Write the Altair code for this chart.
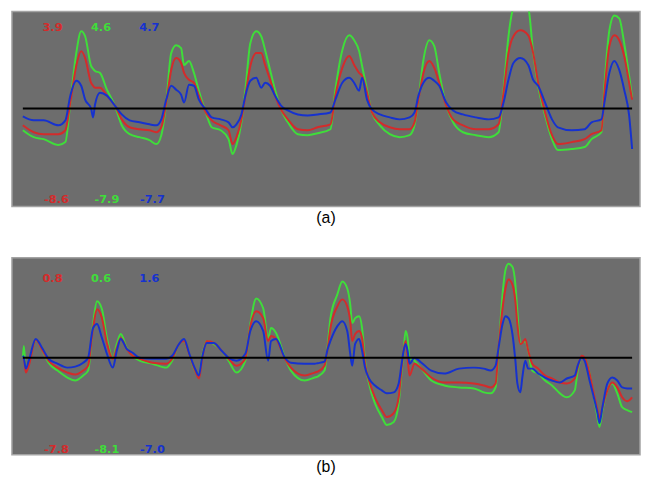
import altair as alt
import pandas as pd

# ---------------- Panel (a) ----------------
x_a = [22, 33, 43, 58, 65, 70, 76, 81, 85, 91, 93, 95, 100, 107, 115, 122, 130, 140, 150, 157,
       162, 167, 172, 177, 182, 185, 190, 195, 200, 207, 213, 222, 230, 234, 238, 243, 247, 252,
       258, 263, 267, 272, 277, 283, 290, 300, 310, 320,
       333, 338, 345, 352, 357, 362, 365, 370, 375, 383, 393, 403, 413, 418, 422, 427, 433, 438,
       443, 450, 457, 467, 480, 493, 503, 508, 513, 518, 525, 533, 538, 543, 550, 557, 563, 577,
       590, 597, 607, 610, 615, 620, 625, 630, 635, 638]
green_a = [-2.2, -2.9, -3.1, -3.7, -3.4, 0.6, 5.6, 7.8, 7.3, 4.3, 4.0, 3.8, 3.6, 1.9, 0.3, -1.7, -2.6, -2.9, -3.2, -3.6,
           -2.7, 0.6, 5.6, 6.4, 6.1, 4.4, 4.8, 3.6, 1.8, -0.4, -1.9, -2.2, -3.1, -4.6, -3.7, -1.4, 1.9, 6.6,
           7.8, 7.3, 5.9, 3.9, 1.9, -0.1, -1.4, -2.6, -2.7, -2.5,
           -2.1, 1.9, 5.9, 7.4, 6.9, 5.8, 4.3, 1.9, -0.4, -1.7, -2.6, -2.9, -2.7, -1.7, 0.9, 4.9, 6.9, 6.3,
           3.6, 0.3, -1.4, -2.4, -2.7, -2.9, -2.4, 1.9, 7.3, 10.2, 11.0, 10.2, 5.6, 2.3, -0.7, -3.1, -4.2, -4.1,
           -3.9, -3.1, -2.4, 2.3, 7.9, 9.4, 9.1, 6.6, 3.3, 1.1]
red_a = [-1.7, -2.4, -2.6, -2.6, -2.2, 0.6, 4.3, 5.8, 5.1, 2.6, 2.3, 2.1, 2.1, 1.3, 0.3, -1.1, -1.9, -2.1, -2.2, -2.4,
         -1.9, 0.6, 3.9, 5.1, 4.6, 3.6, 2.9, 2.6, 1.3, -0.4, -1.2, -1.7, -2.2, -3.6, -2.9, -1.1, 1.3, 4.3,
         5.6, 5.6, 4.4, 2.9, 1.3, -0.1, -1.1, -2.1, -2.2, -1.9,
         -1.6, 1.3, 4.1, 5.3, 4.4, 3.6, 3.3, 1.6, -0.4, -1.4, -1.9, -2.1, -2.1, -1.4, 0.9, 3.6, 4.8, 4.1,
         2.6, 0.3, -1.1, -1.7, -2.1, -2.1, -1.6, 1.6, 5.6, 7.3, 7.9, 7.4, 5.6, 2.6, -0.4, -2.7, -3.6, -3.4,
         -3.1, -2.6, -2.2, 1.6, 6.3, 7.4, 6.9, 5.3, 2.6, 0.9]
blue_a = [-0.8, -1.2, -1.2, -1.7, -1.2, 1.3, 2.8, 2.3, 0.9, 0.0, -0.9, 0.4, 1.6, 1.3, 0.3, -0.6, -1.2, -1.4, -1.6, -1.7,
          -1.1, 0.9, 2.3, 1.9, 1.4, 0.6, 2.4, 2.3, 0.9, -0.1, -0.9, -1.1, -1.4, -1.9, -1.6, -0.6, 1.3, 2.8,
          3.1, 2.1, 2.6, 2.3, 1.3, 0.3, -0.2, -0.6, -0.7, -0.6,
          -0.4, 0.9, 2.6, 3.1, 2.6, 1.8, 3.1, 0.9, -0.1, -0.6, -0.9, -1.1, -0.9, -0.4, 1.3, 2.6, 3.1, 2.8,
          2.3, 0.6, -0.2, -0.6, -0.9, -1.1, -0.9, 0.6, 2.9, 4.6, 5.1, 4.4, 2.9, 2.3, 0.6, -1.1, -1.9, -2.2,
          -2.1, -1.4, -1.1, 0.6, 3.6, 4.8, 3.9, 1.9, -0.7, -4.1]

# ---------------- Panel (b) ----------------
x_b = [22, 23, 25, 28, 35, 42, 48, 57, 67, 75, 83, 88, 93, 97, 102, 107, 113, 117, 121, 127,
       133, 140, 153, 167, 173, 180, 185, 190, 197, 200, 203, 208, 215, 223, 230, 238, 247, 252,
       258, 265, 270, 273, 278, 287, 293, 307, 317, 320, 327, 330, 333, 340, 345, 350, 353, 355,
       358, 362, 365, 368, 372, 378, 385, 390, 397, 402, 405, 407, 409, 411, 413, 418, 425, 435,
       448, 463, 478, 488, 495, 500, 503, 507, 510, 513, 517, 520, 522, 525, 527, 530, 533, 537,
       543, 550, 557, 565, 572, 580, 583, 587, 590, 595, 600, 603, 605, 608, 613, 618, 623, 628,
       633, 638]
green_b = [0.0, 1.2, -1.0, -0.5, 1.8, 0.7, -0.5, -1.3, -2.0, -2.3, -1.8, -1.3, 3.4, 5.7, 4.9, 2.0, 0.0, 1.4, 2.4, 1.0,
           0.2, -0.3, -0.6, -1.0, -0.3, 1.4, 1.7, 0.4, -1.5, -1.8, 0.0, 1.7, 1.4, 0.7, -0.3, -1.5, -0.3, 3.4,
           6.0, 5.0, 2.0, 3.0, 2.5, 0.0, -1.3, -2.3, -2.0, -1.9, -1.3, 1.0, 4.0, 6.4, 7.7, 7.0, 5.4, 3.5,
           4.0, 4.2, 3.0, -0.3, -2.6, -4.6, -6.0, -6.8, -6.5, -4.6, -1.3, 0.7, 2.7, 2.0, 0.0, -0.3, -1.1, -2.3,
           -2.8, -3.0, -3.1, -3.5, -3.6, -3.0, 0.7, 6.4, 8.9, 9.5, 9.2, 7.4, 4.7, 1.4, 1.5, 1.7, 0.7, -1.3,
           -1.6, -2.3, -2.8, -3.6, -4.0, -3.3, -1.3, 0.0, -0.1, -1.6, -4.3, -6.0, -7.0, -5.3, -3.3, -2.6, -3.6, -5.0,
           -5.3, -5.5]
red_b = [0.0, 0.0, -1.5, -0.8, 1.8, 0.7, -0.3, -1.0, -1.5, -1.7, -1.3, -0.8, 3.0, 4.9, 4.0, 1.5, -0.1, 1.0, 2.0, 0.9,
         0.2, -0.1, -0.5, -0.6, -0.1, 1.4, 1.7, 0.4, -1.5, -2.1, -0.3, 1.7, 1.5, 0.7, -0.1, -0.8, -0.1, 3.2,
         4.7, 4.0, 1.7, 2.2, 1.9, -0.1, -1.0, -1.8, -1.5, -1.4, -0.8, 0.8, 3.0, 5.2, 5.9, 5.2, 3.7, 1.7,
         2.4, 2.7, 2.0, -0.6, -2.3, -4.0, -5.3, -6.0, -5.6, -4.0, -1.0, 0.7, 1.7, 0.0, -1.8, -0.6, -1.1, -2.0,
         -2.5, -2.5, -2.6, -2.8, -3.0, -2.6, 1.0, 5.0, 7.0, 7.9, 7.4, 5.7, 3.4, 1.4, 1.5, 1.9, 0.7, -0.6,
         -1.1, -1.8, -2.1, -2.5, -2.6, -2.1, -1.0, 0.2, 0.0, -1.6, -4.0, -5.3, -6.1, -5.0, -3.3, -2.5, -3.0, -4.0,
         -4.4, -4.0]
blue_b = [0.2, 0.0, -1.1, -0.3, 1.9, 0.9, -0.1, -0.6, -1.0, -0.9, -0.5, 0.0, 3.0, 3.4, 2.0, 0.4, -1.0, 0.7, 1.9, 0.9,
          0.5, 0.0, -0.1, -0.1, 0.2, 1.4, 1.9, 0.5, -1.3, -1.8, -0.1, 1.5, 1.5, 0.7, 0.0, -0.3, 0.4, 2.7,
          3.7, 2.7, -0.3, 1.7, 1.9, 0.0, -0.5, -0.6, -0.6, -0.55, -0.4, 0.8, 1.7, 3.2, 3.7, 2.7, 0.4, -0.8,
          1.4, 1.9, 0.7, -1.0, -2.1, -2.8, -3.3, -3.6, -3.5, -2.6, -0.6, 0.7, 1.4, 0.7, -0.6, 0.0, -0.5, -1.3,
          -1.6, -1.1, -1.0, -1.1, -1.3, -0.8, 1.0, 3.4, 4.2, 4.0, 2.4, -0.3, -2.6, -3.5, -2.0, -0.3, -1.1, -1.1,
          -1.6, -2.0, -2.3, -2.5, -2.1, -1.8, -0.8, 0.0, -0.3, -2.3, -4.3, -5.6, -6.6, -5.0, -2.6, -2.0, -2.3, -3.0,
          -3.1, -3.1]

# Labels (text shown in the picture)
labels_top_a = ["3.9", "4.6", "4.7"]
labels_bot_a = ["-8.6", "-7.9", "-7.7"]
labels_top_b = ["0.8", "0.6", "1.6"]
labels_bot_b = ["-7.8", "-8.1", "-7.0"]
captions = ["(a)", "(b)"]

series_names = ["green", "red", "blue"]
series_colors = {"red": "#d42b2b", "green": "#3fdd3a", "blue": "#1632cf"}

for lst in (green_a, red_a, blue_a):
    assert len(lst) == len(x_a), (len(lst), len(x_a))
for lst in (green_b, red_b, blue_b):
    assert len(lst) == len(x_b), (len(lst), len(x_b))

BG = "#6d6d6d"
W = 635


def panel(xs, g, r, b, tops, bots, caption, ydom, height, ytop, ybot):
    rows = []
    for name, vals in (("green", g), ("red", r), ("blue", b)):
        for xv, yv in zip(xs, vals):
            rows.append({"x": xv, "v": yv, "s": name})
    df = pd.DataFrame(rows)
    xs_scale = alt.Scale(domain=[11, 646], nice=False, zero=False)
    ys_scale = alt.Scale(domain=ydom, nice=False, zero=False)

    layers = []
    for name in series_names:
        layers.append(
            alt.Chart(df).transform_filter(alt.datum.s == name)
            .mark_line(color=series_colors[name], strokeWidth=2, clip=True, interpolate="monotone")
            .encode(x=alt.X("x:Q", scale=xs_scale, axis=None),
                    y=alt.Y("v:Q", scale=ys_scale, axis=None))
        )
    zero = alt.Chart(pd.DataFrame({"x": [22], "x2": [638], "v": [0]})).mark_rule(
        color="black", strokeWidth=2).encode(
        x=alt.X("x:Q", scale=xs_scale, axis=None), x2="x2:Q",
        y=alt.Y("v:Q", scale=ys_scale, axis=None))
    lab_rows = []
    lab_x = [52, 101, 150]
    lab_x_b = [56, 107, 153]
    for i, name in enumerate(["red", "green", "blue"]):
        lab_rows.append({"x": lab_x[i], "v": ytop, "t": tops[i], "c": series_colors[name]})
        lab_rows.append({"x": lab_x_b[i], "v": ybot, "t": bots[i], "c": series_colors[name]})
    text = alt.Chart(pd.DataFrame(lab_rows)).mark_text(
        font="DejaVu Sans", fontWeight="bold", fontSize=11.5, baseline="middle", align="center"
    ).encode(
        x=alt.X("x:Q", scale=xs_scale, axis=None),
        y=alt.Y("v:Q", scale=ys_scale, axis=None),
        text="t:N",
        color=alt.Color("c:N", scale=None),
    )
    return alt.layer(*layers, zero, text).properties(
        width=W, height=height,
        title=alt.TitleParams(caption, orient="bottom", fontSize=16, font="Liberation Sans",
                              fontWeight="normal", color="black", offset=4, anchor="middle"),
    )


pa = panel(x_a, green_a, red_a, blue_a, labels_top_a, labels_bot_a, captions[0],
           [-9.9, 9.8], 197, 8.1, -9.3)
pb = panel(x_b, green_b, red_b, blue_b, labels_top_b, labels_bot_b, captions[1],
           [-9.8, 10.1], 199, 8.0, -9.3)

chart = alt.vconcat(pa, pb, spacing=30).properties(
    padding={"left": 3, "top": 0, "right": 0, "bottom": 0},
    background="white",
).configure_view(fill=BG, stroke="#a3a3a3", strokeWidth=1.5)

chart.save("out.html", embed_options={"renderer": "svg", "actions": False})
